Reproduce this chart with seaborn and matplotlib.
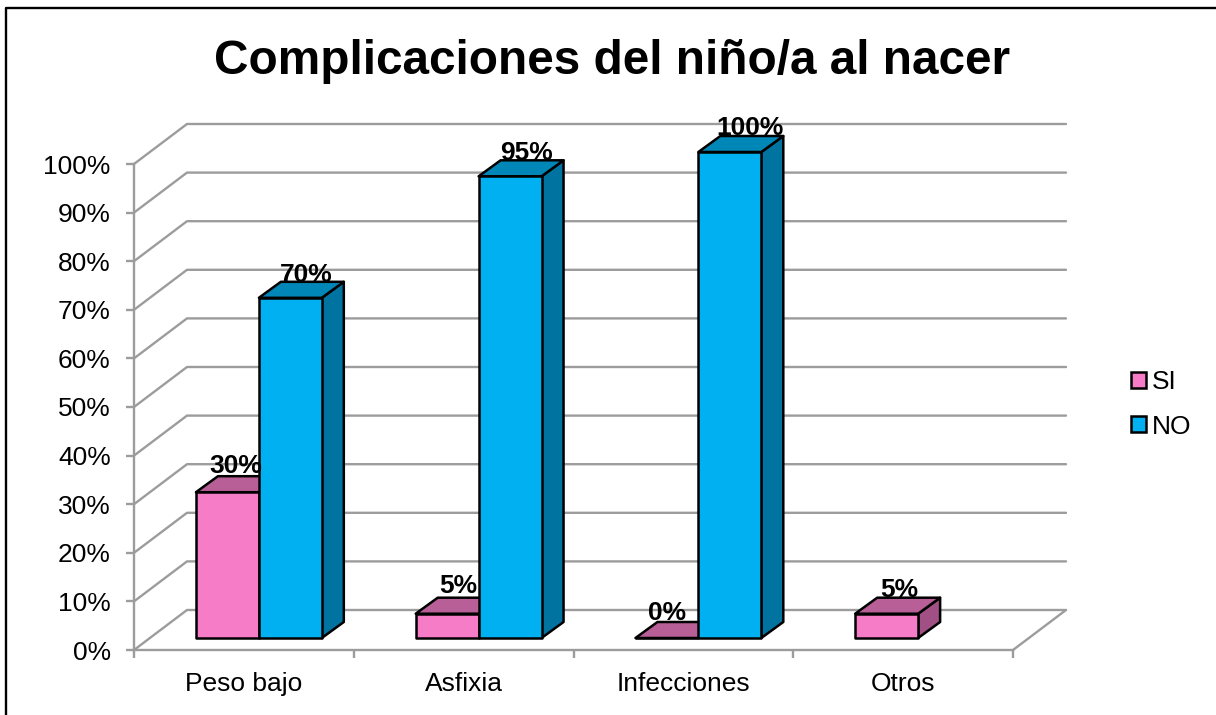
import matplotlib
matplotlib.use("Agg")
import matplotlib.pyplot as plt
import pandas as pd
import seaborn as sns
from matplotlib.lines import Line2D
from matplotlib.patches import Polygon
from matplotlib.transforms import Affine2D

# ========== DATA ==========
categorias = ["Peso bajo", "Asfixia", "Infecciones", "Otros"]
series = ["SI", "NO"]
valores_si = [30, 5, 0, 5]
valores_no = [70, 95, 100, None]
y_ticks = [0, 10, 20, 30, 40, 50, 60, 70, 80, 90, 100]
titulo = "Complicaciones del niño/a al nacer"

# ========== STYLE ==========
W, H = 1216, 715
colores = {"SI": "#F67CC8", "NO": "#00B0F0"}
color_top = {"SI": "#B85F98", "NO": "#0087B8"}
color_side = {"SI": "#A05084", "NO": "#0073A0"}
GRIS = "#9C9C9C"
# small nudges of the value labels, in pixels, one list per series
nudge_si = [(8, 3), (11, 5), (0, 2), (13, 1)]
nudge_no = [(16, 0), (16, 0), (20, 1), (0, 0)]

sns.set_theme(style="white")
plt.rcParams["font.family"] = ["Liberation Sans", "DejaVu Sans"]

df = pd.DataFrame({
    "categoria": categorias * 2,
    "serie": ["SI"] * 4 + ["NO"] * 4,
    "valor": valores_si + valores_no,
})

fig = plt.figure(figsize=(W / 100, H / 100), dpi=100)
ax = fig.add_axes([134 / W, (H - 650) / H, 879 / W, 486 / H])

sns.barplot(data=df, x="categoria", y="valor", hue="serie", order=categorias,
            hue_order=series, palette=colores, width=126 / 220, saturation=1,
            edgecolor="black", linewidth=1.8, ax=ax)
ax.set_xlim(-0.5, 3.5)
ax.set_ylim(0, 100)

# pixel -> data units
ux = 4 / 879
uy = 100 / 486

# ========== WALLS ==========
back_x = 53 * ux
back_y = 40 * uy
for t in y_ticks:
    ax.plot([-0.5, -0.5 + back_x, 3.5 + back_x], [t, t + back_y, t + back_y],
            color=GRIS, lw=1.7, clip_on=False, zorder=1)
ax.plot([3.5, 3.5 + back_x], [0, back_y], color=GRIS, lw=1.7, clip_on=False, zorder=1)

# ========== 3D BARS ==========
shift = ax.transData + Affine2D().translate(15, 12)
depth_x = 22 * ux
depth_y = 16 * uy

for i, (serie, cont) in enumerate(zip(series, ax.containers)):
    nudges = nudge_si if serie == "SI" else nudge_no
    cats = [j for j, v in enumerate(valores_si if serie == "SI" else valores_no) if v is not None]
    for j, bar in zip(cats, cont):
        x0, w, h = bar.get_x(), bar.get_width(), bar.get_height()
        bar.set_transform(shift)
        bar.set_clip_on(False)
        bar.set_zorder(3.1 + i)
        bar.set_joinstyle("round")
        top = [(x0, h), (x0 + depth_x, h + depth_y), (x0 + w + depth_x, h + depth_y), (x0 + w, h)]
        side = [(x0 + w, 0), (x0 + w + depth_x, depth_y), (x0 + w + depth_x, h + depth_y), (x0 + w, h)]
        for pts, col in ((side, color_side[serie]), (top, color_top[serie])):
            ax.add_patch(Polygon(pts, closed=True, facecolor=col, edgecolor="black", lw=1.8,
                                 transform=shift, clip_on=False, zorder=3 + i, joinstyle="round"))
        dx, dy = nudges[j]
        ax.text(x0 + w / 2 + dx * ux, h + depth_y + dy * uy, f"{h:.0f}%", transform=shift,
                ha="center", va="baseline", fontsize=19, fontweight="bold", color="black",
                clip_on=False, zorder=10)

# ========== AXES ==========
for s in ("top", "right"):
    ax.spines[s].set_visible(False)
for s in ("left", "bottom"):
    ax.spines[s].set_color(GRIS)
    ax.spines[s].set_linewidth(1.7)

ax.set_xlabel("")
ax.set_ylabel("")
ax.set_yticks(y_ticks)
ax.set_yticklabels([f"{t}%" for t in y_ticks])
ax.set_xticks(range(len(categorias)))
ax.set_xticklabels(categorias)
ax.set_xticks([-0.5, 0.5, 1.5, 2.5, 3.5], minor=True)
ax.tick_params(axis="y", length=5.8, width=1.7, color=GRIS, labelsize=19, labelcolor="black", pad=11, left=True)
ax.tick_params(axis="x", which="major", length=0, labelsize=19, labelcolor="black", pad=16)
ax.tick_params(axis="x", which="minor", length=5.8, width=1.7, color=GRIS, bottom=True)

# ========== LEGEND ==========
handles, labels = ax.get_legend_handles_labels()
leg = ax.legend(handles, labels, loc="upper left", bbox_to_anchor=(1131 / W, (H - 370) / H),
                bbox_transform=fig.transFigure, frameon=False, fontsize=19, handlelength=0.57,
                handleheight=0.57, handletextpad=0.22, labelspacing=0.78, borderpad=0, borderaxespad=0,
                labelcolor="black")

# ========== TITLE + FRAME ==========
fig.text(612.5 / W, (H - 62) / H, titulo, ha="center", va="center", fontsize=34.4, fontweight="bold", color="black")
fig.add_artist(Line2D([5.5 / W, 5.5 / W, 1], [0, (H - 7.5) / H, (H - 7.5) / H], color="black", lw=1.7))

fig.savefig("out.png", dpi=100)
